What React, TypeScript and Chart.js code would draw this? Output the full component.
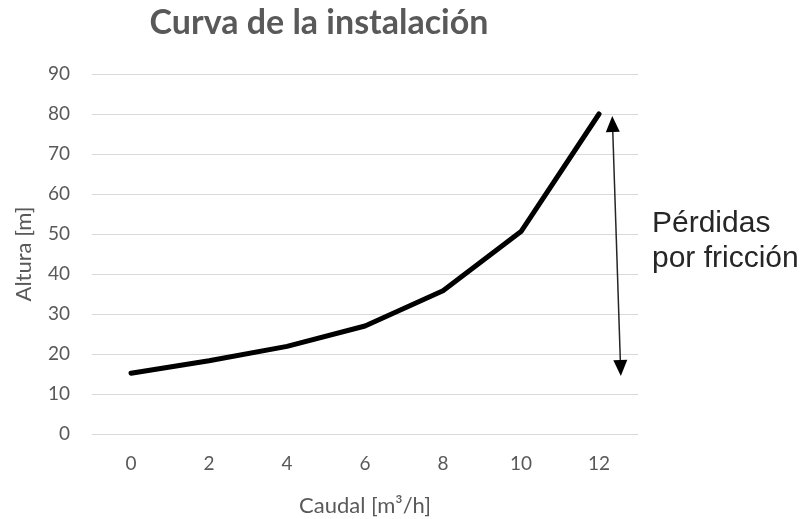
import React, { useEffect, useRef } from "react";
import { Chart, registerables } from "chart.js";

Chart.register(...registerables);

const categories = ["0", "2", "4", "6", "8", "10", "12"];
const altura = [15.2, 18.3, 21.9, 27, 35.8, 50.6, 80];
const yTicks = { min: 0, max: 90, step: 10 };
const titleText = "Curva de la instalación";
const xTitle = "Caudal [m³/h]";
const yTitle = "Altura [m]";
const annotationLines = ["Pérdidas", "por fricción"];
// arrow: from value 79.5 to 14.5, x as category index positions
const arrowValues = [79.5, 14.5];
const arrowIndex = [6.17, 6.28];

const GRAY = "#595959";
const FONT = "Lato, 'Open Sans', sans-serif";

const arrowPlugin = {
  id: "arrowAnnot",
  afterDraw(chart: any) {
    const { ctx, scales, chartArea } = chart;
    const xs = scales.x;
    const ys = scales.y;
    const x1 = xs.getPixelForValue(arrowIndex[0]);
    const y1 = ys.getPixelForValue(arrowValues[0]);
    const x2 = xs.getPixelForValue(arrowIndex[1]);
    const y2 = ys.getPixelForValue(arrowValues[1]);
    const ang = Math.atan2(y2 - y1, x2 - x1);
    const headLen = 16;
    const headW = 7;
    ctx.save();
    ctx.strokeStyle = "#262626";
    ctx.fillStyle = "#000000";
    ctx.lineWidth = 1.5;
    ctx.beginPath();
    ctx.moveTo(x1 + Math.cos(ang) * headLen, y1 + Math.sin(ang) * headLen);
    ctx.lineTo(x2 - Math.cos(ang) * headLen, y2 - Math.sin(ang) * headLen);
    ctx.stroke();
    const head = (tx: number, ty: number, a: number) => {
      const bx = tx - Math.cos(a) * headLen;
      const by = ty - Math.sin(a) * headLen;
      ctx.beginPath();
      ctx.moveTo(tx, ty);
      ctx.lineTo(bx + Math.sin(a) * headW, by - Math.cos(a) * headW);
      ctx.lineTo(bx - Math.sin(a) * headW, by + Math.cos(a) * headW);
      ctx.closePath();
      ctx.fill();
    };
    head(x2, y2, ang);
    head(x1, y1, ang + Math.PI);
    ctx.fillStyle = "#262626";
    ctx.font = "30px 'Liberation Sans', Arial, sans-serif";
    ctx.textAlign = "left";
    ctx.textBaseline = "alphabetic";
    const tx = chartArea.right + 14;
    ctx.fillText(annotationLines[0], tx, ys.getPixelForValue(50.5));
    ctx.fillText(annotationLines[1], tx, ys.getPixelForValue(41.75));
    ctx.restore();
  },
};

export default function App() {
  const ref = useRef<HTMLCanvasElement | null>(null);
  useEffect(() => {
    if (!ref.current) return;
    const chart = new Chart(ref.current, {
      type: "line",
      data: {
        labels: categories,
        datasets: [
          {
            data: altura,
            borderColor: "#000000",
            borderWidth: 5,
            borderCapStyle: "round",
            borderJoinStyle: "round",
            pointRadius: 0,
            tension: 0,
            fill: false,
          },
        ],
      },
      options: {
        animation: false,
        responsive: false,
        maintainAspectRatio: false,
        layout: { padding: { left: 0, right: 173, top: 0, bottom: 0 } },
        plugins: {
          legend: { display: false },
          tooltip: { enabled: false },
          title: {
            display: true,
            text: titleText,
            color: GRAY,
            font: { family: FONT, size: 34, weight: "bold" },
            padding: { top: 3, bottom: 30.2 },
          },
        },
        scales: {
          x: {
            type: "category",
            offset: true,
            grid: { display: false, drawTicks: false },
            border: { display: false },
            ticks: { color: GRAY, font: { family: FONT, size: 19 }, padding: 18, maxRotation: 0 },
            title: {
              display: true,
              text: xTitle,
              color: GRAY,
              font: { family: FONT, size: 22 },
              padding: { top: 0, bottom: 0 },
            },
            afterFit: (s: any) => {
              s.height = 85;
            },
          },
          y: {
            min: yTicks.min,
            max: yTicks.max,
            ticks: { stepSize: yTicks.step, color: GRAY, font: { family: FONT, size: 19 }, padding: 22 },
            grid: { color: "#d9d9d9", lineWidth: 1, drawTicks: false },
            border: { display: false },
            title: {
              display: true,
              text: yTitle,
              color: GRAY,
              font: { family: FONT, size: 22 },
              padding: { top: 11, bottom: 0 },
            },
            afterFit: (s: any) => {
              s.width = 92;
            },
          },
        },
      },
      plugins: [arrowPlugin],
    } as any);
    return () => chart.destroy();
  }, []);
  return (
    <div style={{ position: "absolute", left: 0, top: 0, width: 811, height: 519, background: "#ffffff" }}>
      <canvas ref={ref} width={811} height={519} style={{ display: "block", width: 811, height: 519 }} />
    </div>
  );
}
